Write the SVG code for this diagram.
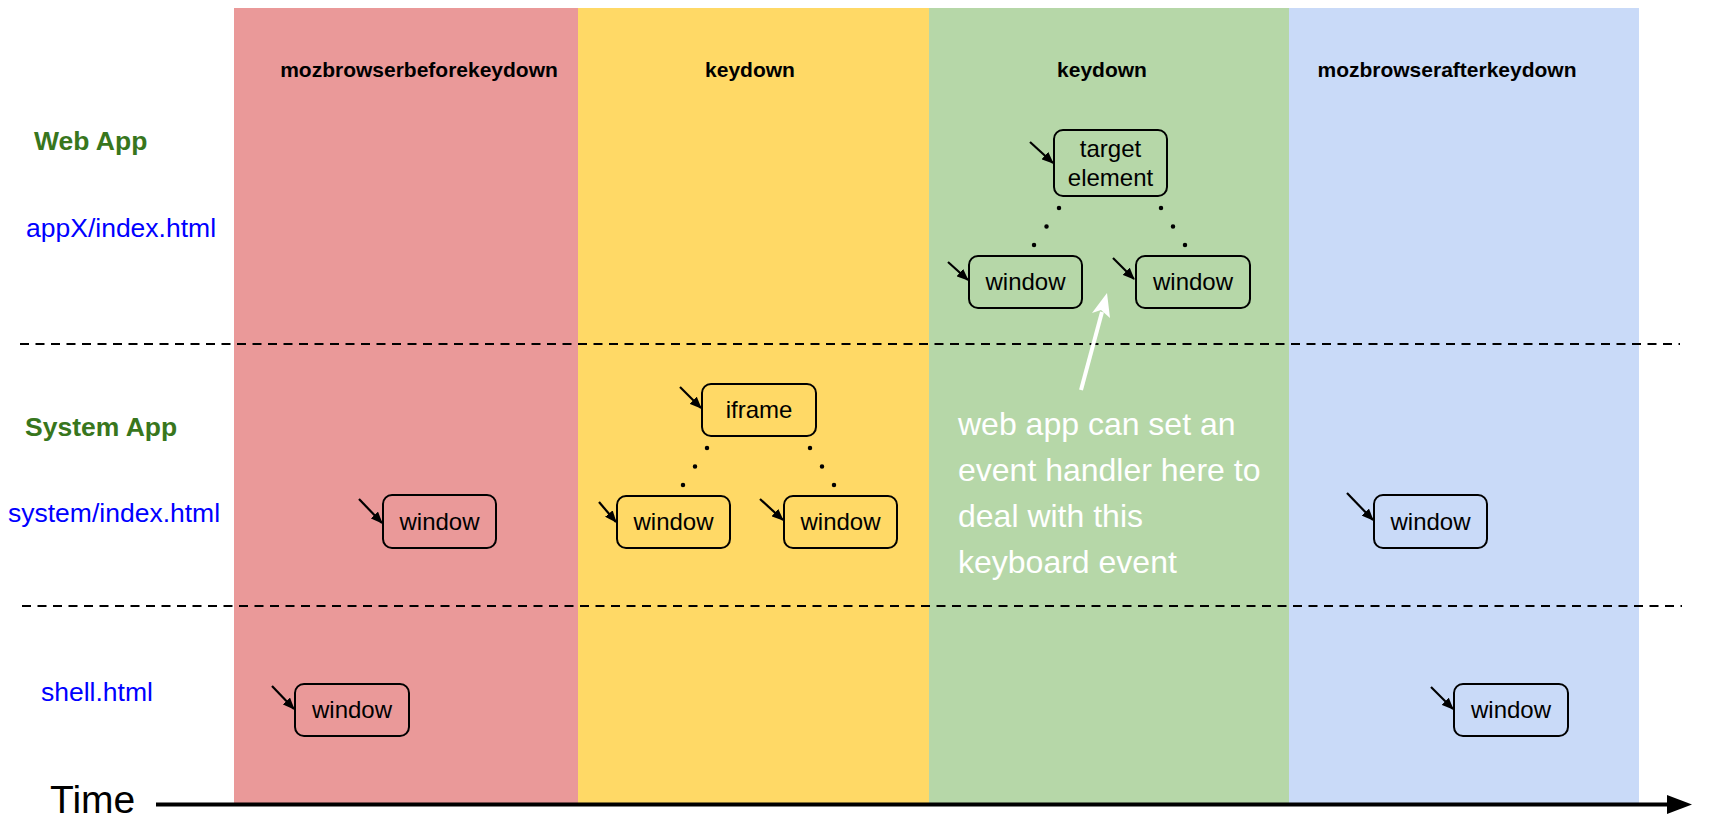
<svg xmlns="http://www.w3.org/2000/svg" width="1712" height="840" viewBox="0 0 1712 840">
<defs>
<marker id="ah" markerWidth="12" markerHeight="10" refX="11" refY="5" orient="auto" markerUnits="userSpaceOnUse">
<path d="M0,0 L12,5 L0,10 Z" fill="#000"/>
</marker>
<style>
.node rect{fill:none;stroke:#000;stroke-width:2}
.node text{font-family:"Liberation Sans",Arial,sans-serif;font-size:24px;fill:#000;text-anchor:middle}
.ptr{stroke:#000;stroke-width:2.2;marker-end:url(#ah)}
.dots{stroke:#000;stroke-width:4.5;stroke-linecap:round;fill:none}
.title{font-family:"Liberation Sans",Arial,sans-serif;font-size:21px;font-weight:bold;fill:#000;text-anchor:middle}
.app{font-family:"Liberation Sans",Arial,sans-serif;font-size:26.5px;font-weight:bold;fill:#38761d}
.file{font-family:"Liberation Sans",Arial,sans-serif;font-size:26.5px;fill:#0000ff}
.dash{stroke:#000;stroke-width:2;stroke-dasharray:9 6.5}
.note{font-family:"Liberation Sans",Arial,sans-serif;font-size:32px;fill:#fff}
</style>
</defs>
<g id="panels">
<rect x="234" y="8" width="344" height="795" fill="#ea9999"/>
<rect x="578" y="8" width="351" height="795" fill="#ffd966"/>
<rect x="929" y="8" width="360" height="795" fill="#b6d7a8"/>
<rect x="1289" y="8" width="350" height="795" fill="#c9daf8"/>
</g>
<g id="titles">
<text class="title" x="419" y="77">mozbrowserbeforekeydown</text>
<text class="title" x="750" y="77">keydown</text>
<text class="title" x="1102" y="77">keydown</text>
<text class="title" x="1447" y="77">mozbrowserafterkeydown</text>
</g>
<g id="labels">
<text class="app" x="34" y="150">Web App</text>
<text class="file" x="26" y="237">appX/index.html</text>
<text class="app" x="25" y="436">System App</text>
<text class="file" x="8" y="522">system/index.html</text>
<text class="file" x="41" y="701">shell.html</text>
</g>
<g id="separators">
<line class="dash" x1="20" y1="344" x2="1680" y2="344"/>
<line class="dash" x1="22" y1="606" x2="1682" y2="606"/>
</g>
<g id="time-axis">
<text x="50" y="813" font-family="Liberation Sans, Arial, sans-serif" font-size="39" fill="#000">Time</text>
<line x1="156" y1="804.5" x2="1670" y2="804.5" stroke="#000" stroke-width="4"/>
<polygon points="1667,795 1692,804.5 1667,814" fill="#000"/>
</g>
<g id="connectors">
<line class="ptr" x1="359" y1="499" x2="382" y2="523"/>
<line class="ptr" x1="272" y1="686" x2="294" y2="709"/>
<line class="ptr" x1="680" y1="387" x2="701" y2="408"/>
<line class="ptr" x1="599" y1="502" x2="616" y2="522"/>
<line class="ptr" x1="760" y1="499" x2="783" y2="520"/>
<line class="ptr" x1="1030" y1="142" x2="1053" y2="163"/>
<line class="ptr" x1="948" y1="262" x2="968" y2="280"/>
<line class="ptr" x1="1113" y1="258" x2="1134" y2="279"/>
<line class="ptr" x1="1347" y1="493" x2="1373" y2="520"/>
<line class="ptr" x1="1431" y1="687" x2="1453" y2="709"/>
<line class="dots" x1="707" y1="448" x2="683" y2="485" stroke-dasharray="0 22.05"/>
<line class="dots" x1="810" y1="448" x2="834" y2="485" stroke-dasharray="0 22.05"/>
<line class="dots" x1="1059" y1="208" x2="1034" y2="245" stroke-dasharray="0 22.3"/>
<line class="dots" x1="1161" y1="208" x2="1185" y2="245" stroke-dasharray="0 22.05"/>
<line x1="1081" y1="390" x2="1102" y2="312" stroke="#fff" stroke-width="4"/>
<polygon points="1107,293 1110,318 1101,310 1092,313" fill="#fff"/>
</g>
<g id="n-red-system" class="node"><rect x="383" y="495" width="113" height="53" rx="9"/><text x="439.5" y="529.5">window</text></g>
<g id="n-red-shell" class="node"><rect x="295" y="684" width="114" height="52" rx="9"/><text x="352" y="718">window</text></g>
<g id="n-iframe" class="node"><rect x="702" y="384" width="114" height="52" rx="9"/><text x="759" y="418">iframe</text></g>
<g id="n-yellow-left" class="node"><rect x="617" y="496" width="113" height="52" rx="9"/><text x="673.5" y="530">window</text></g>
<g id="n-yellow-right" class="node"><rect x="784" y="496" width="113" height="52" rx="9"/><text x="840.5" y="530">window</text></g>
<g id="n-target" class="node"><rect x="1054" y="130" width="113" height="66" rx="9"/><text x="1110.5" y="157">target</text><text x="1110.5" y="186">element</text></g>
<g id="n-green-left" class="node"><rect x="969" y="256" width="113" height="52" rx="9"/><text x="1025.5" y="290">window</text></g>
<g id="n-green-right" class="node"><rect x="1136" y="256" width="114" height="52" rx="9"/><text x="1193" y="290">window</text></g>
<g id="n-blue-system" class="node"><rect x="1374" y="495" width="113" height="53" rx="9"/><text x="1430.5" y="529.5">window</text></g>
<g id="n-blue-shell" class="node"><rect x="1454" y="684" width="114" height="52" rx="9"/><text x="1511" y="718">window</text></g>
<g id="note">
<text class="note" x="958" y="435">web app can set an</text>
<text class="note" x="958" y="481">event handler here to</text>
<text class="note" x="958" y="527">deal with this</text>
<text class="note" x="958" y="573">keyboard event</text>
</g>
</svg>
